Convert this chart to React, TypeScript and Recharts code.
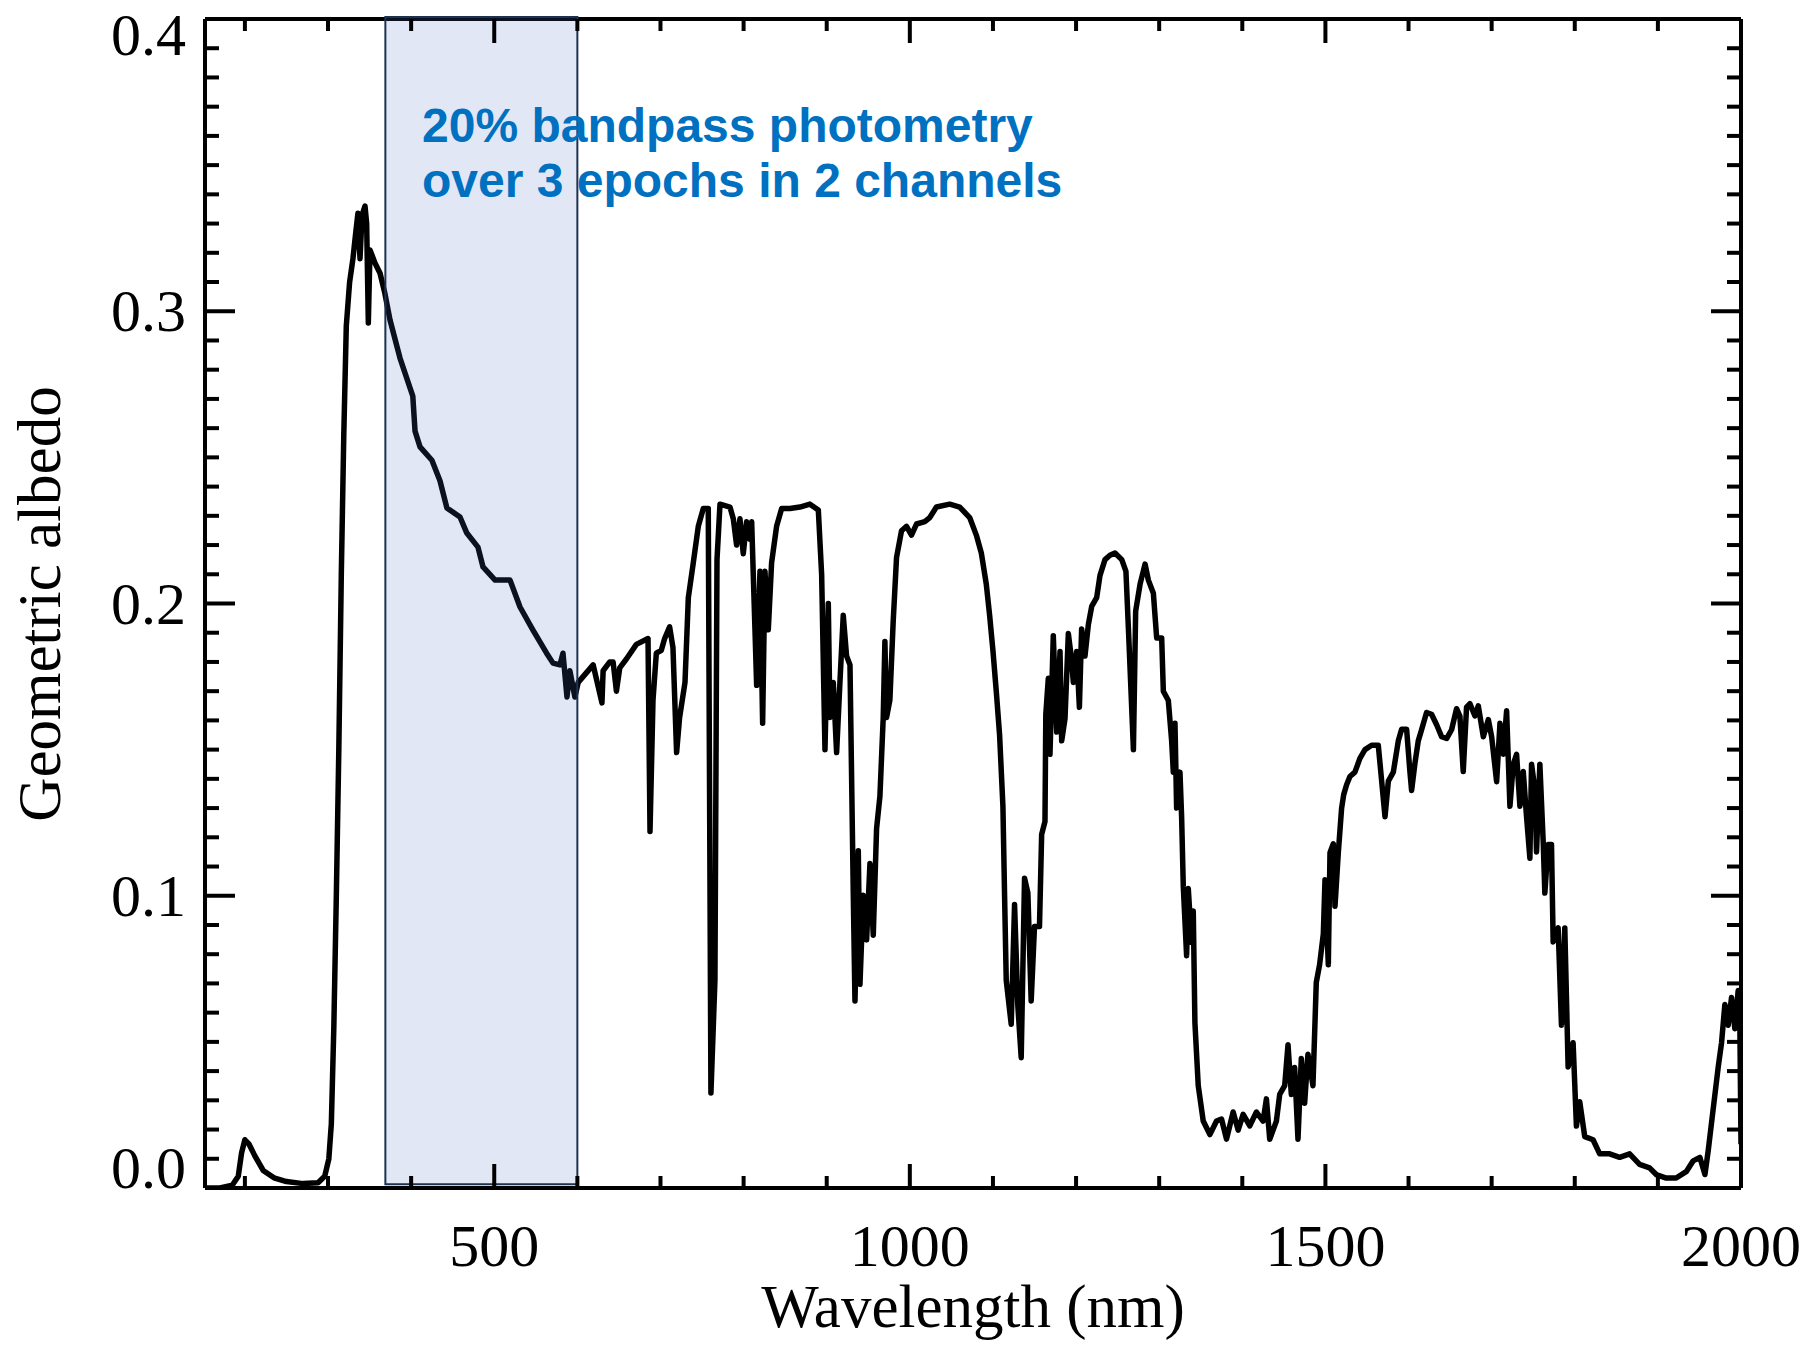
import { LineChart, Line, XAxis, YAxis, ReferenceArea } from 'recharts';

// Geometric albedo spectrum
const wavelengthNm = [
  152, 170, 185, 192, 196, 200, 205, 212, 222, 235, 250, 270, 288, 296, 301, 304, 307, 310, 313, 316,
  319, 322, 326, 330, 333, 336, 338.5, 341, 344.5, 346.5, 348.5, 350.5, 356.5, 362.6, 368.5, 374.6,
  386.6, 402, 404.7, 410.7, 425, 434.7, 443, 458.8, 467, 480.4, 486.5, 501, 519, 531, 546.6, 563,
  570.7, 579, 582.7, 587.5, 591, 597, 601, 619, 629.6, 631, 639, 643, 647, 651, 659, 671, 685, 687.4,
  691, 695, 701, 705, 711, 715, 719.4, 723, 729.5, 733.5, 739.5, 745.5, 751.5, 757.5, 760.7, 765.5,
  768, 771.6, 783.6, 787.6, 791.6, 795.6, 799.6, 803.6, 807.7, 809.7, 813.7, 815.7, 819.7, 822.9,
  825.7, 829.7, 833.7, 839.7, 845.8, 855.8, 867.8, 879.8, 889.9, 893.9, 897.9, 901.9, 903.9, 907.9,
  911.9, 915.9, 919.9, 923.9, 928, 932, 934, 938, 940, 944, 948, 952, 956, 960, 964, 968, 970, 972,
  976, 980, 984, 990, 996, 1002, 1008, 1018, 1024, 1032, 1048, 1060, 1072, 1080, 1086, 1092, 1096,
  1100, 1104, 1108, 1112, 1114, 1116, 1122, 1126, 1130, 1134, 1138, 1142, 1146, 1150, 1156, 1158.6,
  1162.6, 1163.6, 1166.6, 1168.6, 1172.6, 1176.7, 1180.7, 1182.7, 1186.7, 1190.7, 1194.7, 1196.7,
  1200.7, 1204, 1206.7, 1210.7, 1214.8, 1218.8, 1224.8, 1228.8, 1234.8, 1240.8, 1246.8, 1255, 1260,
  1263, 1269, 1271.7, 1277, 1283, 1287, 1293, 1297, 1303, 1305, 1311, 1315, 1317, 1319, 1321, 1325,
  1327, 1329, 1333, 1335, 1339, 1341, 1343, 1347, 1353, 1361, 1369, 1375, 1381, 1389, 1395, 1401,
  1409, 1417, 1425, 1429, 1433, 1441, 1445, 1451, 1455, 1459, 1463, 1467, 1471, 1475, 1479, 1485,
  1489, 1493, 1497.5, 1499.5, 1503.5, 1505.5, 1509.5, 1511.5, 1515.5, 1519.5, 1522, 1525.5, 1529.5,
  1535.5, 1541.5, 1547.6, 1555.6, 1563.6, 1567.7, 1571.7, 1575.7, 1581.7, 1587.7, 1591.7, 1597.7,
  1601.7, 1603.7, 1607.7, 1611.7, 1615.7, 1621.7, 1627.7, 1633.8, 1639.8, 1645.8, 1651.8, 1657.8,
  1661.8, 1665.8, 1669.8, 1673.9, 1679.9, 1683.9, 1690, 1696, 1700, 1706, 1710, 1714, 1718, 1722,
  1726, 1730, 1734, 1738, 1742, 1746, 1748, 1752, 1754, 1758, 1762, 1764, 1768, 1772, 1774, 1780,
  1784, 1788, 1792, 1798, 1802, 1806, 1812, 1822, 1830, 1842, 1854, 1866, 1878, 1890, 1898, 1910,
  1922, 1934.5, 1942.5, 1950.5, 1956.6, 1960.6, 1966.6, 1972.6, 1976.6, 1980.6, 1984.6, 1988.6,
  1992.6, 1996.6, 1998.5, 2000,
];

const albedo = [
  0.0, 0.0, 0.001, 0.004, 0.012, 0.0165, 0.015, 0.011, 0.006, 0.0035, 0.0022, 0.0015, 0.0018, 0.004,
  0.01, 0.022, 0.055, 0.1, 0.15, 0.21, 0.258, 0.295, 0.31, 0.318, 0.326, 0.3335, 0.318, 0.333, 0.336,
  0.33, 0.296, 0.321, 0.3165, 0.313, 0.306, 0.297, 0.284, 0.271, 0.259, 0.2536, 0.249, 0.242, 0.2327,
  0.2296, 0.2241, 0.2193, 0.2125, 0.208, 0.208, 0.1988, 0.1909, 0.183, 0.1796, 0.179, 0.183, 0.168,
  0.177, 0.168, 0.173, 0.179, 0.166, 0.177, 0.18, 0.18, 0.17, 0.178, 0.181, 0.186, 0.188, 0.122,
  0.167, 0.183, 0.184, 0.188, 0.192, 0.185, 0.149, 0.161, 0.173, 0.202, 0.214, 0.2264, 0.2325,
  0.2325, 0.0325, 0.071, 0.215, 0.234, 0.233, 0.229, 0.22, 0.229, 0.217, 0.228, 0.222, 0.228, 0.191,
  0.172, 0.211, 0.159, 0.211, 0.191, 0.214, 0.2264, 0.2325, 0.2325, 0.233, 0.234, 0.232, 0.21, 0.15,
  0.2, 0.161, 0.173, 0.149, 0.173, 0.196, 0.182, 0.179, 0.1, 0.064, 0.1154, 0.0697, 0.1002, 0.0849,
  0.111, 0.0865, 0.123, 0.134, 0.161, 0.187, 0.161, 0.167, 0.194, 0.2157, 0.2249, 0.2264, 0.2234,
  0.2272, 0.228, 0.2294, 0.233, 0.234, 0.233, 0.2294, 0.2234, 0.2173, 0.2066, 0.196, 0.1838, 0.17,
  0.155, 0.1306, 0.1, 0.071, 0.056, 0.097, 0.0621, 0.0446, 0.106, 0.101, 0.064, 0.0895, 0.0895, 0.121,
  0.1254, 0.162, 0.1744, 0.1484, 0.189, 0.156, 0.1836, 0.153, 0.1606, 0.1897, 0.1806, 0.173, 0.1836,
  0.1645, 0.1913, 0.182, 0.1928, 0.199, 0.202, 0.2096, 0.215, 0.2165, 0.2173, 0.215, 0.211, 0.1913,
  0.15, 0.1974, 0.2066, 0.2135, 0.208, 0.2035, 0.1882, 0.1882, 0.17, 0.1668, 0.153, 0.1423, 0.159,
  0.13, 0.1423, 0.127, 0.1032, 0.0795, 0.1025, 0.0841, 0.0948, 0.0565, 0.035, 0.0229, 0.0183, 0.0229,
  0.0236, 0.0167, 0.026, 0.0198, 0.0252, 0.0213, 0.026, 0.0229, 0.0305, 0.0167, 0.0229, 0.032, 0.035,
  0.049, 0.032, 0.0412, 0.0167, 0.0443, 0.029, 0.0458, 0.035, 0.0703, 0.0764, 0.087, 0.1055, 0.0764,
  0.1147, 0.1178, 0.0964, 0.1147, 0.13, 0.1346, 0.138, 0.1408, 0.1423, 0.147, 0.15, 0.1515, 0.1515,
  0.1392, 0.127, 0.1392, 0.1423, 0.153, 0.157, 0.157, 0.1423, 0.136, 0.1453, 0.153, 0.1568, 0.1627,
  0.1621, 0.1585, 0.1544, 0.1538, 0.1568, 0.164, 0.1615, 0.1425, 0.1645, 0.1657, 0.1615, 0.165,
  0.1544, 0.1603, 0.1544, 0.139, 0.159, 0.1484, 0.1633, 0.1306, 0.145, 0.1484, 0.1306, 0.1425, 0.127,
  0.1128, 0.145, 0.1365, 0.115, 0.145, 0.1187, 0.1009, 0.1175, 0.1175, 0.0842, 0.089, 0.0557, 0.089,
  0.0414, 0.0497, 0.0212, 0.0295, 0.0176, 0.0165, 0.0117, 0.0117, 0.0105, 0.0117, 0.0081, 0.0069,
  0.0046, 0.0034, 0.0034, 0.0057, 0.0093, 0.0105, 0.0046, 0.0129, 0.0272, 0.0414, 0.0497, 0.0628,
  0.0557, 0.0652, 0.0545, 0.0676, 0.06, 0.015,
];

const xTicks = [200, 300, 400, 500, 600, 700, 800, 900, 1000, 1100, 1200, 1300, 1400, 1500, 1600, 1700, 1800, 1900, 2000];
const xMajor = [500, 1000, 1500, 2000];
const yTicks = Array.from({ length: 41 }, (_, i) => i / 100);
const yMajorLabels = ['0.0', '0.1', '0.2', '0.3', '0.4'];

const band = { from: 369, to: 600 };
const bandText = ['20% bandpass photometry', 'over 3 epochs in 2 channels'];

const spectrum = wavelengthNm.map((wl, i) => ({ wl, albedo: albedo[i] }));

const W = 1808;
const H = 1346;
const PLOT = { left: 205, right: 1741, top: 19, bottom: 1188 };
const serif = '"Liberation Serif", "Times New Roman", serif';

const isMajorY = (v: number) => Math.abs(v * 10 - Math.round(v * 10)) < 1e-6;

const BottomTick = (props: any) => {
  const { x, y, payload } = props;
  const major = xMajor.includes(payload.value);
  return (
    <g>
      <line x1={x} x2={x} y1={y} y2={y - (major ? 24 : 12)} stroke="#000" strokeWidth={4} />
      {major && (
        <text x={x} y={y + 78} textAnchor="middle" fontFamily={serif} fontSize={60} fill="#000">
          {payload.value}
        </text>
      )}
    </g>
  );
};

const TopTick = (props: any) => {
  const { x, y, payload } = props;
  const major = xMajor.includes(payload.value);
  return <line x1={x} x2={x} y1={y} y2={y + (major ? 24 : 12)} stroke="#000" strokeWidth={4} />;
};

const LeftTick = (props: any) => {
  const { x, y, payload } = props;
  const major = isMajorY(payload.value);
  const baseline = Math.min(Math.max(y + 20, PLOT.top + 36), PLOT.bottom);
  return (
    <g>
      <line x1={x} x2={x + (major ? 30 : 14)} y1={y} y2={y} stroke="#000" strokeWidth={4} />
      {major && (
        <text x={x - 19} y={baseline} textAnchor="end" fontFamily={serif} fontSize={60} fill="#000">
          {yMajorLabels[Math.round(payload.value * 10)]}
        </text>
      )}
    </g>
  );
};

const RightTick = (props: any) => {
  const { x, y, payload } = props;
  const major = isMajorY(payload.value);
  return <line x1={x} x2={x - (major ? 30 : 14)} y1={y} y2={y} stroke="#000" strokeWidth={4} />;
};

const axisLine = { stroke: '#000', strokeWidth: 4 };

export default function App() {
  return (
    <div style={{ position: 'absolute', left: 0, top: 0, width: W, height: H, background: '#fff' }}>
      <LineChart
        width={W}
        height={H}
        data={spectrum}
        // each axis takes 1px of the margin
        margin={{ top: PLOT.top - 1, right: W - PLOT.right - 1, bottom: H - PLOT.bottom - 1, left: PLOT.left - 1 }}
      >
        <XAxis
          xAxisId="b"
          dataKey="wl"
          type="number"
          domain={[152, 2000]}
          allowDataOverflow
          ticks={xTicks}
          interval={0}
          height={1}
          tickSize={0}
          tickMargin={0}
          tickLine={false}
          axisLine={axisLine}
          tick={BottomTick}
        />
        <XAxis
          xAxisId="t"
          orientation="top"
          dataKey="wl"
          type="number"
          domain={[152, 2000]}
          allowDataOverflow
          ticks={xTicks}
          interval={0}
          height={1}
          tickSize={0}
          tickMargin={0}
          tickLine={false}
          axisLine={axisLine}
          tick={TopTick}
        />
        <YAxis
          yAxisId="l"
          type="number"
          domain={[0, 0.4]}
          allowDataOverflow
          ticks={yTicks}
          interval={0}
          width={1}
          tickSize={0}
          tickMargin={0}
          tickLine={false}
          axisLine={axisLine}
          tick={LeftTick}
        />
        <YAxis
          yAxisId="r"
          orientation="right"
          type="number"
          domain={[0, 0.4]}
          allowDataOverflow
          ticks={yTicks}
          interval={0}
          width={1}
          tickSize={0}
          tickMargin={0}
          tickLine={false}
          axisLine={axisLine}
          tick={RightTick}
        />
        <Line
          xAxisId="b"
          yAxisId="l"
          type="linear"
          dataKey="albedo"
          stroke="#000"
          strokeWidth={5.5}
          strokeLinejoin="round"
          dot={false}
          activeDot={false}
          isAnimationActive={false}
        />
        <ReferenceArea
          xAxisId="b"
          yAxisId="l"
          x1={band.from}
          x2={band.to}
          y1={0.0013}
          y2={0.4007}
          ifOverflow="visible"
          fill="#4b6ac8"
          fillOpacity={0.16}
          stroke="#1f3150"
          strokeWidth={2}
          zIndex={650}
        />
      </LineChart>
      <svg width={W} height={H} style={{ position: 'absolute', left: 0, top: 0, pointerEvents: 'none' }}>
        <text x={973} y={1327} textAnchor="middle" fontFamily={serif} fontSize={61} fill="#000">
          Wavelength (nm)
        </text>
        <text
          x={60}
          y={604}
          transform="rotate(-90 60 604)"
          textAnchor="middle"
          fontFamily={serif}
          fontSize={61}
          fill="#000"
        >
          Geometric albedo
        </text>
        {bandText.map((line, i) => (
          <text
            key={line}
            x={422}
            y={142 + i * 55}
            fontFamily='"Liberation Sans", Arial, sans-serif'
            fontWeight="bold"
            fontSize={48}
            fill="#0070c0"
          >
            {line}
          </text>
        ))}
      </svg>
    </div>
  );
}
